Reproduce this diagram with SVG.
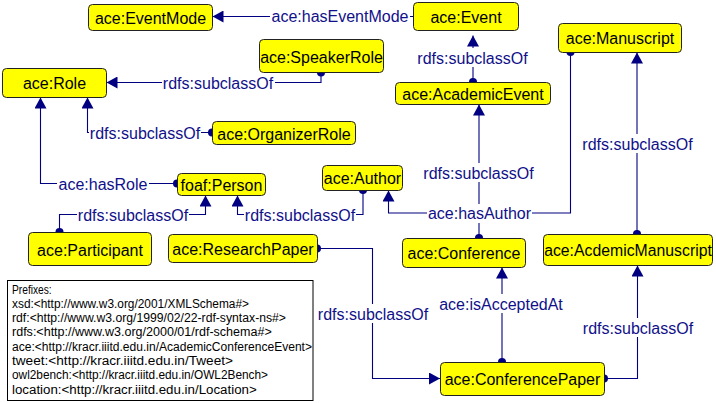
<svg xmlns="http://www.w3.org/2000/svg" width="716" height="403" viewBox="0 0 716 403">
<style>
.node rect{fill:#ffff00;stroke:#222;stroke-width:1}
.node text{font-family:"Liberation Sans",Arial,sans-serif;font-size:16px;fill:#000;text-anchor:middle}
.edge path{fill:none;stroke:#000080;stroke-width:1.1}
.lbl rect{fill:#fff}
.lbl text{font-family:"Liberation Sans",Arial,sans-serif;font-size:16px;fill:#10108a;text-anchor:middle}
.pfx text{font-family:"Liberation Sans",Arial,sans-serif;font-size:12px;fill:#000}
</style>
<defs>
<marker id="arr" viewBox="0 0 11 12" refX="11" refY="6" markerWidth="11" markerHeight="12" markerUnits="userSpaceOnUse" orient="auto"><path d="M0,0 L11,6 L0,12 z" fill="#000080"/></marker>
<marker id="dot" viewBox="0 0 9 9" refX="4.5" refY="4.5" markerWidth="9" markerHeight="9" markerUnits="userSpaceOnUse" orient="auto"><circle cx="4.5" cy="4.5" r="4" fill="#000080"/></marker>
</defs>
<rect width="716" height="403" fill="#fff"/>
<g id="connectors">
<g class="edge">
<path d="M413,16.5 H212.5" marker-end="url(#arr)"/>
<path d="M321,72.5 V82.5 H106.5" marker-start="url(#dot)" marker-end="url(#arr)"/>
<path d="M212,132.5 H87.5 V97.5" marker-start="url(#dot)" marker-end="url(#arr)"/>
<path d="M177,183.5 H40.5 V97.5" marker-start="url(#dot)" marker-end="url(#arr)"/>
<path d="M59.5,232 V214.5 H205.5 V195.5" marker-start="url(#dot)" marker-end="url(#arr)"/>
<path d="M363,190 V214.5 H237.5 V195.5" marker-start="url(#dot)" marker-end="url(#arr)"/>
<path d="M473,82 V35.5" marker-start="url(#dot)" marker-end="url(#arr)"/>
<path d="M479,238 V104.5" marker-start="url(#dot)" marker-end="url(#arr)"/>
<path d="M570.5,52 V213 H388.5 V190.5" marker-start="url(#dot)" marker-end="url(#arr)"/>
<path d="M637,234 V52.5" marker-start="url(#dot)" marker-end="url(#arr)"/>
<path d="M317,248.5 H372.5 V378.5 H440" marker-start="url(#dot)" marker-end="url(#arr)"/>
<path d="M502,362 V267.5" marker-start="url(#dot)" marker-end="url(#arr)"/>
<path d="M604,378.5 H637.5 V265.5" marker-start="url(#dot)" marker-end="url(#arr)"/>
</g>
<g class="lbl">
<rect x="270" y="7" width="140" height="19"/><text x="340" y="22">ace:hasEventMode</text>
<rect x="162" y="73" width="113" height="19"/><text x="218" y="88.5">rdfs:subclassOf</text>
<rect x="89" y="123" width="112" height="19"/><text x="145" y="139">rdfs:subclassOf</text>
<rect x="57" y="174" width="92" height="19"/><text x="103" y="189.5">ace:hasRole</text>
<rect x="77" y="205" width="112" height="19"/><text x="133" y="220.5">rdfs:subclassOf</text>
<rect x="244" y="205" width="112" height="19"/><text x="300" y="220.5">rdfs:subclassOf</text>
<rect x="416" y="48" width="113" height="19"/><text x="472.5" y="63.5">rdfs:subclassOf</text>
<rect x="422" y="163" width="113" height="19"/><text x="478.5" y="178.5">rdfs:subclassOf</text>
<rect x="427" y="204" width="105" height="19"/><text x="479.5" y="219">ace:hasAuthor</text>
<rect x="581" y="134" width="113" height="19"/><text x="637.5" y="149.5">rdfs:subclassOf</text>
<rect x="317" y="304" width="113" height="19"/><text x="373" y="319.5">rdfs:subclassOf</text>
<rect x="438" y="294" width="126" height="19"/><text x="501" y="309.5">ace:isAcceptedAt</text>
<rect x="582" y="318" width="113" height="19"/><text x="638" y="333.5">rdfs:subclassOf</text>
</g>
</g>
<g id="n-eventmode" class="node"><rect x="88.5" y="4.5" width="124" height="26" rx="4"/><text x="150.5" y="23.5">ace:EventMode</text></g>
<g id="n-event" class="node"><rect x="413.5" y="2.5" width="105" height="28" rx="4"/><text x="466" y="22.5">ace:Event</text></g>
<g id="n-manuscript" class="node"><rect x="558.5" y="23.5" width="123" height="29" rx="4"/><text x="620" y="44">ace:Manuscript</text></g>
<g id="n-speakerrole" class="node"><rect x="259.5" y="39.5" width="124" height="33" rx="4"/><text x="321.5" y="62.5">ace:SpeakerRole</text></g>
<g id="n-role" class="node"><rect x="2.5" y="68.5" width="104" height="29" rx="4"/><text x="54.5" y="89">ace:Role</text></g>
<g id="n-organizerrole" class="node"><rect x="212.5" y="121.5" width="143" height="23" rx="4"/><text x="284" y="139.5">ace:OrganizerRole</text></g>
<g id="n-academicevent" class="node"><rect x="395.5" y="82.5" width="155" height="22" rx="4"/><text x="473" y="99.5">ace:AcademicEvent</text></g>
<g id="n-author" class="node"><rect x="322.5" y="165.5" width="80" height="25" rx="4"/><text x="362.5" y="184">ace:Author</text></g>
<g id="n-person" class="node"><rect x="177.5" y="173.5" width="88" height="22" rx="4"/><text x="221.5" y="190.5">foaf:Person</text></g>
<g id="n-participant" class="node"><rect x="28.5" y="232.5" width="123" height="33" rx="4"/><text x="90" y="255.5">ace:Participant</text></g>
<g id="n-researchpaper" class="node"><rect x="168.5" y="234.5" width="149" height="28" rx="4"/><text x="243" y="254.5">ace:ResearchPaper</text></g>
<g id="n-conference" class="node"><rect x="402.5" y="238.5" width="123" height="29" rx="4"/><text x="464" y="259">ace:Conference</text></g>
<g id="n-acdemicmanuscript" class="node"><rect x="543.5" y="234.5" width="169" height="31" rx="4"/><text x="628" y="256" style="font-size:15.8px">ace:AcdemicManuscript</text></g>
<g id="n-conferencepaper" class="node"><rect x="440.5" y="362.5" width="164" height="33" rx="4"/><text x="522.5" y="385">ace:ConferencePaper</text></g>
<g id="prefixes" class="pfx">
<rect x="7.5" y="280.5" width="305.5" height="120" fill="#fff" stroke="#000" stroke-width="1"/>
<text x="12" y="293.5" textLength="39.7" lengthAdjust="spacingAndGlyphs">Prefixes:</text>
<text x="12" y="307.8" textLength="237" lengthAdjust="spacingAndGlyphs">xsd:&lt;http://www.w3.org/2001/XMLSchema#&gt;</text>
<text x="12" y="322.1" textLength="274" lengthAdjust="spacingAndGlyphs">rdf:&lt;http://www.w3.org/1999/02/22-rdf-syntax-ns#&gt;</text>
<text x="12" y="336.4" textLength="259.7" lengthAdjust="spacingAndGlyphs">rdfs:&lt;http://www.w3.org/2000/01/rdf-schema#&gt;</text>
<text x="12" y="350.7" textLength="300" lengthAdjust="spacingAndGlyphs">ace:&lt;http://kracr.iiitd.edu.in/AcademicConferenceEvent&gt;</text>
<text x="12" y="365" textLength="221" lengthAdjust="spacingAndGlyphs">tweet:&lt;http://kracr.iiitd.edu.in/Tweet&gt;</text>
<text x="12" y="379.3" textLength="256" lengthAdjust="spacingAndGlyphs">owl2bench:&lt;http://kracr.iiitd.edu.in/OWL2Bench&gt;</text>
<text x="12" y="393.6" textLength="244.7" lengthAdjust="spacingAndGlyphs">location:&lt;http://kracr.iiitd.edu.in/Location&gt;</text>
</g>
</svg>
